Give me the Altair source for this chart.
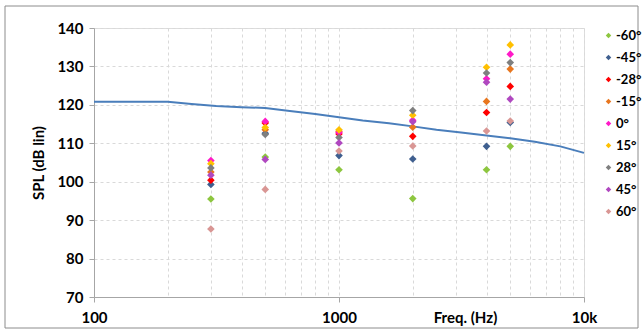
import altair as alt
import pandas as pd

# ---- data ----
point_freqs = [300, 500, 1000, 2000, 4000, 5000]
angles = ["-60°", "-45°", "-28°", "-15°", "0°", "15°", "28°", "45°", "60°"]
spl_m60 = [95.5, 106.4, 103.1, 95.6, 103.1, 109.2]
spl_m45 = [99.3, 112.6, 106.8, 105.9, 109.2, 115.4]
spl_m28 = [100.4, 115.3, 112.4, 111.8, 118.0, 124.8]
spl_m15 = [102.5, 113.5, 113.1, 114.2, 120.9, 129.3]
spl_0 = [105.5, 115.7, 112.8, 116.0, 126.8, 133.2]
spl_15 = [104.7, 114.1, 113.5, 117.3, 129.8, 135.6]
spl_28 = [103.6, 112.3, 111.5, 118.5, 128.3, 131.0]
spl_45 = [101.7, 105.8, 110.1, 115.6, 125.9, 121.5]
spl_60 = [87.7, 98.0, 108.0, 109.3, 113.2, 115.8]
series = [spl_m60, spl_m45, spl_m28, spl_m15, spl_0, spl_15, spl_28, spl_45, spl_60]
colors = ["#8DC63F", "#3F5F8F", "#FF0000", "#E8761E", "#FF19C8",
          "#FFC000", "#7F7F7F", "#B048C0", "#D99694"]

line_freqs = [100, 125, 160, 200, 250, 315, 400, 500, 630, 800, 1000, 1250,
              1600, 2000, 2500, 3150, 4000, 5000, 6300, 8000, 10000]
line_spl = [120.8, 120.8, 120.8, 120.8, 120.2, 119.7, 119.4, 119.2, 118.4, 117.6,
            116.8, 115.9, 115.2, 114.4, 113.5, 112.8, 112.0, 111.3, 110.4, 109.2, 107.5]

grid_vals = [100, 200, 300, 400, 500, 600, 700, 800, 900,
             1000, 2000, 3000, 4000, 5000, 6000, 7000, 8000, 9000, 10000]
y_ticks = [70, 80, 90, 100, 110, 120, 130, 140]

rows = []
for i, (a, vals) in enumerate(zip(angles, series)):
    for f, v in zip(point_freqs, vals):
        rows.append({"freq": f, "spl": v, "angle": a, "ord": i})
pts = pd.DataFrame(rows)
line_df = pd.DataFrame({"freq": line_freqs, "spl": line_spl})

FONT = "Lato"

xscale = alt.Scale(type="log", domain=[100, 10000], nice=False)
yscale = alt.Scale(domain=[70, 140], nice=False, zero=False)

xaxis = alt.Axis(
    values=grid_vals,
    labelExpr="datum.value == 10000 ? '10k' : (datum.value == 100 || datum.value == 1000 ? datum.label : '')",
    format="d",
    title="Freq. (Hz)",
    titleX=371, titleY=25, titleAnchor="middle", titleAlign="center",
    titleBaseline="alphabetic", titleFontSize=15, titleFont=FONT, titleFontWeight="bold",
    titleColor="#000000",
    labelFont=FONT, labelFontSize=15, labelFontWeight="bold", labelColor="#000000",
    labelPadding=8, labelFlush=False, labelOverlap=False,
    grid=True, gridColor="#D9D9D9", gridDash=[3, 3], gridWidth=1,
    domainColor="#A6A6A6", domainWidth=1,
    tickColor="#A6A6A6", tickSize=5,
    tickOpacity={"condition": {"test": "datum.value == 100 || datum.value == 1000 || datum.value == 10000", "value": 1}, "value": 0},
)
yaxis = alt.Axis(
    values=y_ticks,
    tickCount=8,
    title="SPL (dB lin)",
    titleFont=FONT, titleFontSize=15, titleFontWeight="bold", titleColor="#000000",
    titlePadding=10,
    labelFont=FONT, labelFontSize=15, labelFontWeight="bold", labelColor="#000000",
    labelPadding=6, labelOverlap=False, labelFlush=False, labelBound=False,
    grid=True, gridColor="#D9D9D9", gridDash=[3, 3], gridWidth=1,
    domainColor="#A6A6A6", tickColor="#A6A6A6", tickSize=5,
)

line = alt.Chart(line_df).mark_line(color="#4A7EBB", strokeWidth=2).encode(
    x=alt.X("freq:Q", scale=xscale, axis=xaxis),
    y=alt.Y("spl:Q", scale=yscale, axis=yaxis),
)

points = alt.Chart(pts).mark_point(shape="diamond", filled=True, opacity=1, size=58).encode(
    x=alt.X("freq:Q", scale=xscale, axis=xaxis),
    y=alt.Y("spl:Q", scale=yscale, axis=yaxis),
    color=alt.Color(
        "angle:N",
        scale=alt.Scale(domain=angles, range=colors),
        sort=angles,
        legend=alt.Legend(
            title=None, orient="none", legendX=508, legendY=1,
            symbolType="diamond", symbolSize=30, symbolStrokeWidth=0,
            labelFont=FONT, labelFontSize=13, labelFontWeight="bold", labelColor="#000000",
            rowPadding=8, labelOffset=1, padding=0,
        ),
    ),
    order=alt.Order("ord:Q"),
)

frame = alt.Chart(pd.DataFrame({"k": [0]})).mark_rect(
    fillOpacity=0, stroke="#8C8C8C", strokeWidth=1
).encode(
    x=alt.value(-89), x2=alt.value(544), y=alt.value(-22), y2=alt.value(300)
)

chart = alt.layer(frame, line, points).properties(
    width=490, height=269,
    padding={"left": 94, "top": 28, "right": 59, "bottom": 34},
    autosize=alt.AutoSizeParams(type="none"),
).configure_view(stroke=None).configure(background="#FFFFFF")

chart.save("out.html", embed_options={"renderer": "svg", "actions": False})
